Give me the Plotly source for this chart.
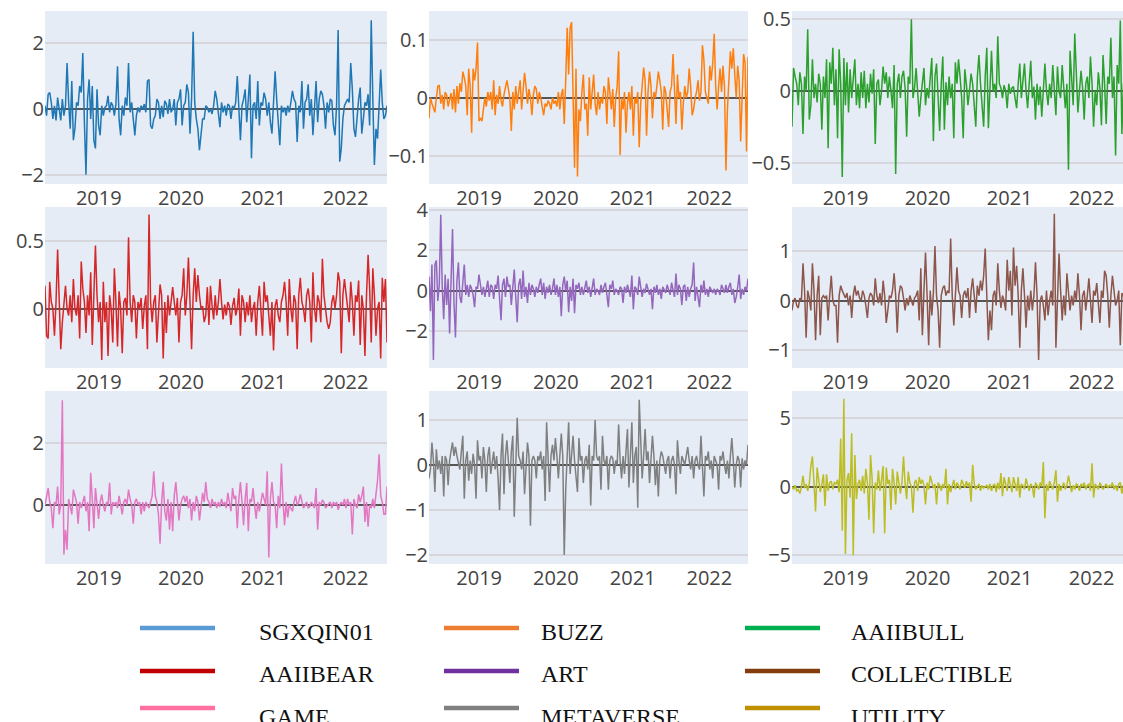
import pandas as pd
import plotly.graph_objects as go

N = 218
dates = pd.date_range("2018-05-07", periods=N, freq="7D")

names = ["SGXQIN01", "BUZZ", "AAIIBULL", "AAIIBEAR", "ART", "COLLECTIBLE", "GAME", "METAVERSE", "UTILITY"]

sgxqin01 = [
    0.1, -0.2, 0.45, 0.5, 0.2, -0.3, 0.1, -0.35, 0.35, -0.1,
    -0.35, 0.3, -0.2, 0.1, 1.4, 0.2, -0.6, 0.85, -0.95, -0.6,
    0.2, 0.1, 0.7, 0.5, 1.7, -0.4, -2.0, 0.3, 0.9, -0.3,
    0.7, -0.95, -1.2, 0.6, -0.5, -0.8, 0.1, -0.2, 0.05, 0.1,
    0.4, -0.1, 0.2, 0.1, -0.2, 0.15, 1.3, -0.3, -0.8, 0.1,
    -0.2, 0.35, 0.1, 1.4, -0.1, 0.2, -0.3, -0.8, -0.2, 0.05,
    -0.1, 0.1, 0.0, 0.15, -0.1, 0.85, 0.9, -0.5, -0.6, -0.3,
    -0.2, 0.3, 0.2, -0.3, 0.1, -0.25, 0.25, 0.15, -0.15, 0.3,
    -0.1, 0.0, 0.3, -0.5, 0.2, 0.3, 0.6, -0.5, 0.1, 0.2,
    0.75, 0.5, -0.75, 0.3, 2.35, 0.2, -0.3, -0.6, -1.25, -0.8,
    -0.3, -0.3, 0.1, 0.05, -0.1, 0.0, -0.15, 0.1, 0.55, 0.3,
    -0.1, -0.55, 0.2, -0.1, 0.1, -0.2, 0.15, 0.1, -0.3, 0.1,
    0.0, 0.2, 1.0, 0.1, -0.95, 0.1, 0.3, 0.6, -0.4, 0.3,
    1.05, -1.5, 0.1, 0.2, -0.3, 0.85, -0.5, 0.2, 0.1, 0.5,
    0.3, -0.2, 0.2, -0.4, -0.75, 0.2, 1.15, 0.3, -0.4, -1.1,
    0.1, -0.1, 0.05, -0.2, 0.1, -0.1, 0.2, 0.55, 0.3, 0.2,
    -1.0, 0.1, -0.1, 0.85, -0.6, 0.2, 0.3, 0.75, -0.2, 0.3,
    -0.8, 0.2, 0.85, -0.4, 0.3, 0.55, 0.45, 0.1, -0.6, 0.2,
    -0.1, 0.3, 0.25, -0.5, -0.8, 0.1, 2.4, -1.6, -1.2, -0.3,
    0.1, 0.2, 0.3, 0.2, 1.4, 0.6, -0.6, -0.85, -0.2, 0.3,
    0.65, -0.75, -0.3, 0.2, 0.1, 0.45, -0.5, 2.7, 0.3, -1.7,
    -0.6, -0.9, 0.1, 1.2, 0.2, -0.3, -0.2, 0.1,
]

buzz = [
    -0.035, 0.0, -0.01, -0.02, -0.025, 0.0, 0.02, 0.022, -0.01, 0.005,
    -0.02, 0.01, 0.005, -0.015, 0.0, 0.008, -0.02, 0.015, -0.025, 0.02,
    -0.01, 0.025, 0.01, 0.045, 0.035, 0.02, -0.03, 0.05, 0.02, -0.06,
    0.05, 0.03, 0.05, 0.095, -0.04, -0.035, -0.04, -0.02, 0.0, -0.015,
    0.01, -0.005, 0.01, -0.02, 0.03, -0.03, 0.005, -0.01, 0.02, -0.005,
    -0.015, 0.005, 0.015, 0.03, 0.015, 0.0, -0.057, 0.01, -0.02, 0.02,
    -0.01, 0.015, 0.03, -0.02, 0.01, 0.043, 0.02, -0.01, 0.015, 0.0,
    -0.03, 0.005, 0.02, 0.015, -0.01, 0.01, 0.0, -0.015, -0.03, -0.01,
    -0.015, -0.005, -0.01, -0.02, 0.0, -0.01, -0.005, -0.015, 0.01, -0.02,
    0.005, 0.015, -0.045, 0.03, 0.12, 0.04, 0.12, 0.13, 0.02, -0.12,
    0.05, -0.135, -0.02, -0.04, 0.01, 0.04, -0.02, -0.01, -0.065, 0.035,
    -0.02, 0.01, 0.04, -0.01, -0.03, 0.01, -0.02, 0.0, -0.01, 0.02,
    0.01, -0.045, 0.035, 0.01, -0.02, 0.015, -0.05, 0.0, 0.02, 0.08,
    -0.098, 0.0, -0.02, 0.01, -0.06, -0.01, 0.01, -0.02, 0.02, -0.065,
    0.0, -0.01, 0.01, -0.085, -0.01, 0.02, 0.052, 0.03, -0.065, 0.01,
    0.045, 0.02, -0.035, 0.01, 0.0, 0.02, 0.045, 0.03, 0.01, -0.055,
    0.02, 0.01, -0.02, -0.05, 0.01, 0.02, 0.075, 0.01, -0.045, 0.04,
    0.0, 0.01, -0.055, -0.01, 0.02, 0.0, 0.01, 0.05, 0.02, -0.03,
    -0.02, 0.0, 0.01, 0.03, -0.005, 0.01, 0.09, 0.065, 0.01, 0.0,
    -0.01, 0.055, 0.03, 0.06, 0.11, 0.02, -0.02, 0.02, 0.05, 0.01,
    0.055, 0.02, -0.125, -0.02, 0.03, 0.08, 0.05, 0.085, 0.04, 0.0,
    0.055, 0.03, -0.075, 0.02, 0.075, 0.06, -0.092, 0.07,
]

aaiibull = [
    -0.25, 0.16, 0.1, 0.05, -0.1, 0.13, 0.05, -0.3, 0.1, 0.0,
    0.43, -0.2, -0.1, 0.22, -0.05, 0.05, -0.08, 0.12, 0.05, -0.27,
    0.1, -0.05, 0.22, -0.4, 0.2, 0.05, 0.3, -0.1, 0.15, -0.33,
    0.29, 0.05, -0.6, 0.23, -0.1, 0.2, -0.15, 0.15, -0.05, 0.1,
    0.22, -0.1, 0.05, -0.12, 0.13, -0.05, 0.14, -0.12, 0.05, -0.08,
    0.12, -0.02, 0.15, -0.37, 0.05, 0.08, -0.1, 0.0, 0.17, 0.05,
    0.13, -0.05, 0.1, 0.0, -0.12, 0.18, -0.58, 0.05, 0.12, -0.05,
    0.1, 0.14, 0.02, -0.32, 0.1, 0.05, 0.5, -0.05, 0.02, 0.16,
    0.0, -0.18, -0.05, 0.05, 0.16, -0.1, 0.02, -0.05, 0.08, 0.23,
    -0.35, 0.1, 0.19, -0.1, -0.28, 0.05, 0.24, -0.27, 0.06, -0.1,
    0.1, -0.05, 0.05, -0.33, 0.2, 0.05, 0.22, 0.1, -0.05, -0.33,
    0.15, 0.05, -0.1, 0.0, 0.12, 0.05, -0.1, -0.25, 0.1, 0.25,
    0.05, -0.1, -0.25, 0.1, 0.3, -0.26, 0.05, 0.28, 0.0, 0.05,
    -0.05, 0.38, 0.05, 0.02, -0.05, 0.04, 0.0, -0.12, 0.05, -0.02,
    0.02, 0.03, -0.05, -0.12, 0.05, 0.19, -0.05, 0.05, 0.19, 0.0,
    -0.12, 0.05, 0.21, -0.05, 0.03, -0.2, 0.05, -0.1, 0.03, -0.18,
    0.05, 0.19, 0.0, -0.1, 0.05, -0.05, 0.18, 0.02, -0.17, 0.17,
    0.0, -0.05, 0.18, 0.02, -0.12, 0.05, -0.55, 0.28, 0.05, -0.1,
    0.4, 0.05, -0.15, 0.0, 0.14, 0.02, -0.2, 0.05, 0.1, -0.05,
    0.24, 0.05, -0.25, 0.0, -0.1, 0.13, 0.02, -0.24, 0.25, 0.05,
    -0.23, 0.1, 0.05, 0.37, -0.05, 0.1, -0.45, 0.18, 0.05, 0.49,
    -0.3, 0.05, 0.1, -0.1, 0.2, -0.15, 0.05, 0.1,
]

aaiibear = [
    0.17, -0.2, -0.22, 0.2, 0.05, 0.0, -0.2, 0.05, 0.44, 0.0,
    -0.3, -0.1, 0.05, 0.17, 0.0, -0.05, 0.1, -0.1, 0.22, 0.0,
    -0.05, 0.1, -0.22, 0.35, 0.15, 0.05, -0.18, 0.1, -0.05, 0.27,
    -0.27, 0.05, 0.47, 0.1, -0.1, 0.05, -0.38, 0.2, -0.1, 0.05,
    -0.35, 0.1, 0.0, -0.25, 0.3, 0.05, -0.28, 0.13, 0.0, -0.33,
    0.05, 0.08, -0.05, 0.53, 0.05, -0.1, 0.1, 0.05, -0.22, 0.05,
    0.0, 0.08, -0.15, 0.02, 0.1, -0.3, 0.7, 0.05, -0.1, 0.05,
    0.1, -0.25, 0.0, 0.18, 0.1, -0.37, 0.05, -0.18, 0.1, -0.05,
    0.05, 0.16, 0.05, -0.05, 0.08, -0.25, 0.05, 0.1, 0.3, -0.05,
    0.1, 0.38, 0.05, -0.3, 0.1, 0.3, 0.05, 0.25, 0.1, 0.0,
    0.02, -0.1, -0.05, 0.16, -0.12, 0.17, 0.02, -0.08, 0.1, -0.05,
    0.05, 0.22, 0.05, -0.08, 0.03, -0.05, 0.05, 0.02, -0.12, 0.02,
    0.08, -0.05, 0.0, 0.15, -0.2, 0.1, 0.05, -0.1, 0.05, -0.05,
    0.1, -0.1, 0.0, 0.05, -0.2, 0.05, 0.17, -0.05, -0.2, 0.2,
    0.05, 0.1, -0.05, -0.2, 0.05, -0.31, 0.02, 0.07, -0.05, -0.1,
    0.05, 0.1, 0.2, 0.05, -0.2, 0.22, 0.0, -0.1, 0.1, 0.05,
    -0.3, 0.1, 0.23, 0.05, 0.0, -0.1, 0.1, 0.15, 0.05, -0.25,
    0.27, 0.0, -0.1, 0.1, 0.05, -0.1, 0.37, 0.1, 0.0, -0.1,
    -0.15, -0.1, 0.05, 0.1, 0.0, 0.1, 0.27, 0.2, -0.33, 0.1,
    0.22, 0.1, 0.0, -0.1, 0.2, 0.05, -0.2, 0.1, 0.05, 0.21,
    -0.27, 0.1, 0.0, -0.35, 0.1, 0.4, 0.15, -0.25, 0.3, 0.1,
    -0.2, 0.0, 0.05, -0.37, 0.23, 0.05, 0.22, -0.25,
]

art = [
    0.7, -1.0, 1.3, -3.4, 1.3, 1.5, -0.5, 0.3, 3.75, 0.2,
    -1.4, 0.8, -0.7, 0.6, -2.1, 0.4, 3.05, -0.6, -2.3, 0.5,
    1.4, -0.3, -0.6, 0.4, 1.3, -0.2, 0.3, -0.3, 0.3, 0.1,
    -0.2, -0.8, 0.2, 0.1, 0.8, 0.3, -0.2, 0.2, -0.3, 0.1,
    0.5, -0.3, 0.3, 0.2, -0.4, 0.3, 0.1, 0.75, -0.2, -1.45,
    0.3, 0.6, -0.3, 0.7, 0.2, 0.3, -0.7, 0.2, 1.05, -0.3,
    -1.55, 0.3, 0.6, -0.4, 1.0, -0.3, 0.2, -0.6, 0.4, -0.2,
    0.3, 0.1, -0.3, 0.2, -0.1, 0.3, 0.6, -0.2, 0.4, -0.4,
    0.2, -0.1, 0.3, -0.2, 0.1, 0.6, -0.2, 0.3, -0.3, 0.2,
    -1.25, 0.3, 0.7, 0.0, 0.5, -1.05, 0.2, -0.5, 0.6, -1.1,
    0.3, 0.1, 0.4, -0.2, 0.2, -0.2, 0.1, 0.5, -0.1, 0.2,
    -0.3, 0.3, 0.6, -0.2, 0.1, 0.0, -0.2, 0.3, -0.1, 0.2,
    0.4, -0.2, -0.8, 0.3, 0.1, 0.5, -0.2, 0.1, 0.0, -0.2,
    0.2, 0.1, -0.6, 0.2, -0.1, 0.3, 0.0, -0.3, 0.75, -0.9,
    0.2, 0.1, -0.2, 0.7, 0.2, -0.3, 0.1, -0.1, 0.35, 0.0,
    -0.2, 0.1, -0.9, 0.2, -0.1, 0.3, -0.2, 0.1, -0.4, 0.2,
    0.0, -0.1, 0.3, 0.1, -0.2, 0.4, 0.1, -0.3, 0.85, -0.2,
    0.3, 0.1, -0.7, 0.2, 0.3, -0.5, 0.2, -0.3, 0.1, 0.3,
    1.4, -0.5, 0.2, -0.2, -0.8, 0.3, -0.1, 0.5, -0.2, 0.1,
    -0.3, 0.2, 0.0, -0.1, 0.1, -0.2, 0.1, 0.0, -0.2, 0.3,
    0.1, -0.1, 0.3, -0.1, 0.2, 0.4, -0.2, 0.1, -0.6, -0.3,
    0.2, 0.8, -0.4, 0.1, -0.2, 0.2, 0.0, 0.6,
]

collectible = [
    -0.2, 0.0, 0.05, -0.1, -0.15, 0.05, 0.0, 0.75, 0.2, -0.75,
    0.2, 0.05, -0.2, 0.75, 0.2, -0.8, 0.1, 0.5, -0.7, 0.05,
    0.1, 0.05, 0.1, -0.4, 0.1, 0.5, 0.0, -0.1, -0.1, -0.85,
    0.1, 0.3, 0.2, 0.1, 0.05, 0.15, -0.1, 0.1, -0.35, 0.1,
    0.3, 0.1, 0.2, 0.05, 0.0, 0.2, 0.1, -0.1, -0.35, 0.05,
    0.15, 0.1, -0.1, 0.45, 0.1, -0.05, 0.15, -0.1, 0.4, 0.1,
    -0.45, -0.2, 0.1, 0.05, 0.2, 0.55, 0.1, -0.65, 0.1, 0.3,
    0.25, 0.05, -0.2, 0.05, -0.1, 0.1, 0.0, -0.1, 0.05, 0.1,
    0.2, -0.4, 0.65, -0.7, 0.2, 0.97, 0.1, -0.9, 0.2, -0.3,
    0.15, 1.1, 0.1, -0.2, -0.95, 0.1, 0.25, 0.3, 0.1, 0.2,
    0.15, 1.25, 0.1, -0.5, 0.1, 0.67, 0.2, 0.1, -0.35, 0.1,
    0.2, 0.05, 0.25, -0.35, 0.2, 0.45, 0.1, -0.25, 0.3, 0.1,
    0.4, 0.2, 0.5, 1.05, 0.1, -0.8, -0.2, -0.6, 0.1, 0.2,
    -0.1, 0.75, 0.2, -0.15, 0.1, 0.0, -0.2, 0.82, 0.2, 0.6,
    -0.3, 1.07, 0.3, 0.7, 0.1, -0.95, 0.2, 0.65, 0.1, -0.55,
    0.1, -0.2, 0.2, -0.2, 0.1, 0.77, 0.1, -1.2, 0.0, 0.1,
    -0.1, -0.4, 0.2, -0.3, 0.0, 0.2, -0.1, 1.75, -0.95, 0.2,
    0.95, 0.2, -0.4, 0.1, -0.3, 0.55, 0.1, -0.2, 0.1, -0.1,
    0.2, 0.0, 0.55, 0.1, -0.6, 0.1, 0.2, -0.2, 0.1, 0.45,
    0.0, -0.45, 0.2, 0.1, 0.35, 0.0, -0.45, 0.2, 0.05, 0.6,
    0.5, 0.1, -0.55, 0.1, 0.5, 0.2, -0.1, 0.0, 0.2, -0.9,
    0.15, 0.1, -0.2, 0.3, 0.0, -0.3, 0.2, 0.1,
]

game = [
    0.0, 0.3, 0.55, 0.1, -0.1, -0.75, 0.1, 0.0, 0.6, -0.3,
    0.0, 3.4, -1.6, -0.8, -1.45, 0.2, -0.1, -0.3, 0.5, 0.3,
    0.1, -0.6, 0.1, -0.1, 0.1, 0.3, -0.2, 0.1, -0.85, 1.05,
    0.2, -0.75, 0.55, 0.1, -0.45, 0.1, 0.35, 0.0, -0.2, 0.1,
    0.0, 0.72, -0.3, 0.1, 0.0, 0.1, -0.1, 0.3, 0.0, -0.3,
    0.1, 0.2, 0.0, 0.5, 0.2, 0.0, -0.6, 0.1, 0.2, 0.0,
    0.1, -0.3, 0.1, -0.2, 0.1, 0.0, -0.1, 0.1, 0.3, 1.1,
    0.3, 0.1, -0.3, -1.25, 0.1, 0.75, -0.2, -0.5, 0.2, -0.8,
    0.1, -0.85, 0.3, 0.75, 0.1, -0.5, 0.0, 0.2, 0.3, 0.1,
    0.3, -0.1, 0.2, -0.5, 0.1, -0.2, 0.3, 0.1, -0.5, 0.0,
    0.4, 0.1, 0.75, 0.2, 0.1, -0.1, 0.2, 0.0, 0.1, -0.1,
    0.1, -0.05, 0.2, 0.0, 0.1, -0.1, 0.4, 0.1, -0.2, 0.55,
    0.2, 0.3, -0.75, 0.2, 0.75, 0.1, -0.65, 0.2, 0.72, -0.85,
    0.2, 0.1, 0.55, 0.0, -0.45, 0.1, -0.2, 0.1, 0.4, 0.2,
    0.0, 1.1, -1.7, 0.2, 0.75, 0.1, 0.0, -0.75, 0.3, -0.1,
    1.35, 0.1, -0.65, 0.1, -0.4, 0.0, -0.1, -0.2, 0.1, 0.3,
    0.0, 0.1, 0.35, 0.1, -0.1, 0.0, 0.1, -0.1, -0.05, 0.1,
    0.0, -0.1, 0.55, -0.8, 0.1, 0.0, 0.15, 0.1, -0.1, 0.0,
    0.05, 0.1, -0.1, 0.1, 0.0, 0.1, -0.15, 0.0, 0.1, 0.0,
    0.2, -0.1, 0.2, 0.0, 0.1, -0.95, 0.2, 0.0, -0.1, 0.35,
    0.1, 0.3, 0.6, -0.55, 0.1, -0.7, 0.0, -0.1, 0.2, -0.1,
    0.3, 0.8, 1.65, 0.3, 0.1, -0.3, -0.3, 0.6,
]

metaverse = [
    -0.3, -0.1, 0.5, 0.1, -0.6, 0.35, -0.1, 0.1, -0.2, 0.2,
    -0.7, 0.2, 0.1, -0.45, 0.1, 0.3, 0.5, 0.2, 0.4, 0.2,
    0.0, -0.1, 0.3, 0.65, -0.75, 0.1, 0.3, -0.35, 0.1, -0.2,
    0.25, 0.0, -0.75, 0.55, 0.1, 0.2, -0.3, 0.4, 0.1, -0.6,
    0.2, 0.4, -0.2, 0.1, 0.3, -0.1, 0.2, -0.3, -1.0, 0.2,
    0.7, -0.65, 0.2, 0.55, 0.1, -0.4, 0.3, 0.65, -1.15, 0.1,
    1.05, 0.2, 0.1, -0.1, 0.3, -0.65, 0.1, 0.5, 0.2, -1.35,
    0.1, 0.2, 0.1, -0.3, 0.2, 0.1, 0.3, -0.1, 0.2, -0.8,
    0.95, 0.1, -0.6, 0.2, 0.45, 0.1, 0.6, 0.2, -0.3, 0.2,
    0.7, 0.2, -2.0, -0.55, 0.3, 0.95, -0.2, 0.3, 0.65, 0.1,
    -0.3, -0.6, 0.6, 0.1, 0.2, -0.4, 0.1, 0.2, -0.1, 0.45,
    -0.9, 0.2, 0.1, 1.0, 0.2, 0.1, 0.2, -0.55, 0.65, 0.1,
    0.0, 0.2, -0.55, 0.1, 0.2, 0.15, -0.2, 0.1, 0.0, 0.9,
    0.1, -0.3, 0.2, -0.2, 0.3, 0.8, -0.5, 0.2, 0.95, -0.4,
    0.2, 0.4, -0.95, 1.45, 0.3, -0.3, 0.2, 0.8, 0.1, 0.3,
    -0.4, 0.1, 0.65, 0.2, -0.45, 0.1, -0.7, 0.1, 0.3, 0.2,
    0.0, -0.2, 0.1, 0.2, -0.3, 0.1, 0.2, 0.0, -0.65, 0.55,
    0.1, -0.2, 0.2, 0.1, 0.0, 0.2, 0.4, 0.1, -0.1, 0.2,
    -0.3, 0.1, 0.2, 0.0, -0.1, 0.65, 0.1, -0.7, 0.2, 0.1,
    0.3, -0.1, 0.1, -0.3, 0.2, 0.1, 0.0, -0.55, 0.2, 0.1,
    0.3, 0.0, -0.2, 0.1, -0.3, 0.2, 0.6, 0.1, -0.5, 0.0,
    0.2, 0.1, -0.5, 0.15, -0.1, 0.1, 0.0, 0.45,
]

utility = [
    0.0, -0.2, 0.1, -0.3, -0.2, -0.5, 0.0, 0.8, -0.1, 0.2,
    -0.3, 0.2, 1.5, 2.2, 0.3, -1.8, 1.4, 0.3, -0.4, 0.2,
    0.9, -1.4, 0.9, -0.3, 0.3, 0.4, -0.2, 0.3, 0.2, 0.5,
    -0.4, 3.5, -3.2, 6.4, -4.9, 0.5, 1.0, -0.8, 3.9, -5.0,
    2.3, -0.9, 0.2, 0.5, -0.3, 0.8, -0.5, 1.3, 0.3, -2.4,
    2.3, 0.6, -3.4, 0.3, -0.2, 1.2, -0.3, 0.5, 1.5, -3.4,
    1.4, 0.2, 0.5, -1.7, 1.3, 0.3, -1.3, 1.1, 0.2, -0.5,
    0.3, 2.2, 0.2, -0.9, 1.1, 0.3, 0.0, -1.9, 0.3, 0.5,
    -0.3, 0.7, 0.2, 0.5, 0.1, -1.3, 0.3, -0.2, 0.8, 0.4,
    -0.1, 0.2, -1.3, 0.3, 0.1, -0.3, 0.2, -0.1, 1.3, -1.3,
    0.2, -0.4, 0.1, 0.5, -0.2, 0.3, 0.1, -0.2, 0.5, 0.2,
    -0.1, 0.4, 0.0, 0.3, -1.1, 1.6, 0.2, -0.2, 0.0, 0.2,
    -0.3, 0.1, -0.1, 0.0, 0.1, -0.2, 0.2, -0.3, 0.1, 0.2,
    -0.4, 0.3, -0.2, 1.0, -0.7, 0.7, 0.2, -0.3, 0.7, 0.1,
    -0.4, 0.7, 0.2, -0.3, 0.7, -0.8, 0.2, 0.1, -0.2, 0.6,
    0.1, -0.3, 0.2, 0.0, -0.8, 0.3, 0.1, -0.2, 0.3, 0.0,
    1.8, -2.3, 0.2, -0.3, 0.4, 0.1, -0.2, 0.3, 1.2, -1.1,
    0.2, -0.3, 0.1, 0.3, -0.2, 0.1, 0.8, 0.2, -0.4, 0.1,
    -0.2, 0.2, 0.1, -0.3, 0.2, 0.0, 0.3, -0.2, 0.1, 0.2,
    -0.3, 1.7, -0.8, 0.2, 0.0, -0.2, 0.3, 0.1, -0.2, 0.0,
    0.2, -0.1, 0.1, 0.0, 0.3, -0.2, 0.1, -0.3, 0.2, 0.3,
    -0.5, 0.1, -0.2, 0.2, 0.0, -0.1, 0.2, 0.0,
]

series = [sgxqin01, buzz, aaiibull, aaiibear, art, collectible, game, metaverse, utility]
bad = [(n, len(s)) for n, s in zip(names, series) if len(s) != N]
if bad:
    raise SystemExit("length mismatch: %s" % bad)

trace_colors = ["#1f77b4", "#ff7f0e", "#2ca02c", "#d62728", "#9467bd",
                "#8c564b", "#e377c2", "#7f7f7f", "#bcbd22"]
legend_colors = ["#5B9BD5", "#ED7D31", "#00B050", "#C00000", "#7030A0",
                 "#843C0C", "#FF6F9F", "#808080", "#BF9000"]

y_ranges = [[-2.28, 2.98], [-0.148, 0.149], [-0.649, 0.557],
            [-0.44, 0.755], [-3.8, 4.13], [-1.36, 1.886],
            [-1.91, 3.70], [-2.2, 1.644], [-5.63, 6.97]]
y_dticks = [2, 0.1, 0.5, 0.5, 2, 1, 2, 1, 5]

W, H = 1123, 722
col_px = [(45, 387), (429, 748), (792, 1123)]
row_px = [(11, 184), (207, 368), (391, 564)]
x_ranges = [["2018-05-07", "2022-07-04"], ["2018-05-07", "2022-07-04"], ["2018-05-07", "2022-05-21"]]

tick_font = dict(family="Open Sans, Arial, sans-serif", size=20, color="#444")

fig = go.Figure()
layout = {}
for k in range(9):
    r, c = divmod(k, 3)
    ax = "" if k == 0 else str(k + 1)
    fig.add_trace(go.Scatter(
        x=dates, y=series[k], mode="lines", name=names[k],
        line=dict(color=trace_colors[k], width=1.5),
        xaxis="x" + ax, yaxis="y" + ax, showlegend=False,
    ))
    layout["xaxis" + ax] = dict(
        domain=[col_px[c][0] / W, col_px[c][1] / W],
        anchor="y" + ax, range=x_ranges[c], showgrid=False, zeroline=False,
        tickformat="%Y", dtick="M12", tick0="2019-01-01",
        tickfont=tick_font, ticks="", showline=False, automargin=False,
    )
    layout["yaxis" + ax] = dict(
        domain=[1 - row_px[r][1] / H, 1 - row_px[r][0] / H],
        anchor="x" + ax, range=y_ranges[k], dtick=y_dticks[k], tick0=0,
        showgrid=True, gridcolor="#d6d6dc", gridwidth=1.5,
        zeroline=True, zerolinecolor="#555", zerolinewidth=1.5,
        tickfont=tick_font, ticks="", showline=False, automargin=False,
    )

shapes = []
annotations = []
leg_line_x = [(140, 215), (444, 519), (745, 820)]
leg_text_x = [257, 539, 849]
leg_line_y = [628, 671, 708]
leg_text_y = [632, 674, 717]
for k in range(9):
    r, c = divmod(k, 3)
    shapes.append(dict(
        type="line", xref="paper", yref="paper",
        x0=leg_line_x[c][0] / W, x1=leg_line_x[c][1] / W,
        y0=1 - leg_line_y[r] / H, y1=1 - leg_line_y[r] / H,
        line=dict(color=legend_colors[k], width=4.5),
    ))
    annotations.append(dict(
        xref="paper", yref="paper", x=leg_text_x[c] / W, y=1 - leg_text_y[r] / H,
        xanchor="left", yanchor="middle", showarrow=False, text=names[k],
        font=dict(family="Liberation Serif, Times New Roman, serif", size=24, color="#111"),
    ))

fig.update_layout(
    width=W, height=H, margin=dict(l=0, r=0, t=0, b=0, pad=0, autoexpand=False),
    paper_bgcolor="white", plot_bgcolor="#E5ECF6",
    showlegend=False, shapes=shapes, annotations=annotations,
    **layout,
)

fig.write_html("out.html")
